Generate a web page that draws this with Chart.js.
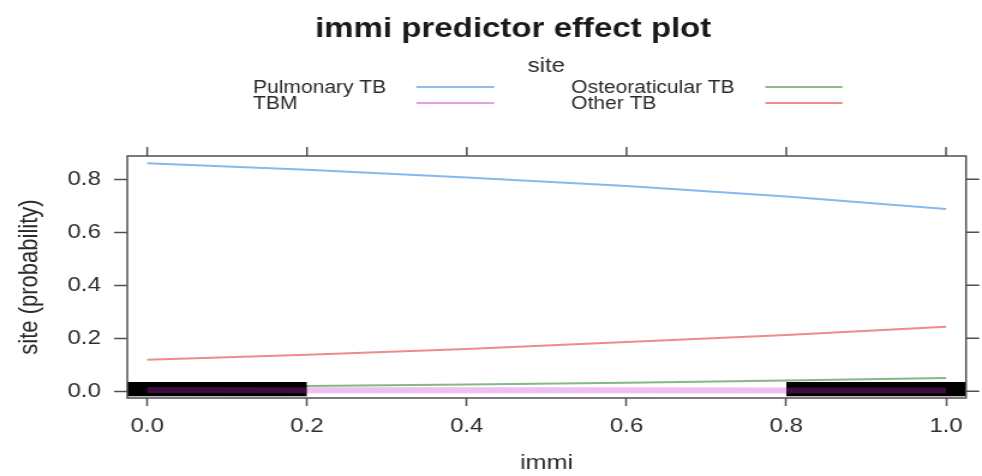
<!DOCTYPE html>
<html>
<head>
<meta charset="utf-8">
<script src="https://cdn.jsdelivr.net/npm/chart.js@4.4.0/dist/chart.umd.min.js"></script>
<style>
  html, body { margin: 0; padding: 0; background: #fff; }
  /* the reference is a horizontally stretched picture, so the canvas is drawn narrow and stretched */
  #effectChart { width: 982px !important; height: 476px !important; display: block; }
</style>
</head>
<body>
<canvas id="effectChart" width="818" height="476" style="width:982px;height:476px"></canvas>
<script>
// data
const immiValues = [0, 0.2, 0.4, 0.6, 0.8, 1.0];
const pulmonaryTB = [0.861, 0.836, 0.807, 0.775, 0.735, 0.688];
const tbm = [0.005, 0.004, 0.004, 0.004, 0.003, 0.003];
const osteoTB = [0.015, 0.020, 0.026, 0.033, 0.041, 0.050];
const otherTB = [0.119, 0.138, 0.160, 0.186, 0.213, 0.244];
const xTickValues = [0, 0.2, 0.4, 0.6, 0.8, 1.0];
const yTickValues = [0, 0.2, 0.4, 0.6, 0.8];
const rugSpans = [[-0.025, 0.2], [0.8, 1.025]];

const FONT = "'Liberation Sans', Arial, sans-serif";
const rugTop = 0.035, rugBottom = -0.018;

function pts(values) {
    return immiValues.map((x, i) => ({ x: x, y: values[i] }));
}

function inRug(ctx) {
    const a = ctx.p0.parsed.x, b = ctx.p1.parsed.x;
    return rugSpans.some(s => a >= s[0] && b <= s[1]);
}

// rug bands (black blocks along the bottom)
const rugSets = rugSpans.map(s => ({
    label: 'rug',
    data: [{ x: s[0], y: rugTop }, { x: s[1], y: rugTop }],
    borderWidth: 0,
    pointRadius: 0,
    backgroundColor: '#000000',
    fill: { value: rugBottom },
    order: 10
}));

// lower order is drawn on top; the green line sits under the rug
const seriesSets = [
    { label: 'Pulmonary TB', data: pts(pulmonaryTB), borderColor: '#86b9ec', legendColor: '#8fbdec', borderWidth: 2, order: 2 },
    { label: 'TBM', data: pts(tbm), borderColor: '#efbff1', legendColor: '#e3a0e8', borderWidth: 6, order: 1,
      segment: { borderColor: ctx => inRug(ctx) ? '#3b0c3d' : undefined } },
    { label: 'Osteoraticular TB', data: pts(osteoTB), borderColor: '#86b886', legendColor: '#8cba8c', borderWidth: 2, order: 11 },
    { label: 'Other TB', data: pts(otherTB), borderColor: '#ec8c8c', legendColor: '#e89090', borderWidth: 2, order: 2 }
];
seriesSets.forEach(d => { d.pointRadius = 0; d.fill = false; d.tension = 0; });

// title, key, frame and the unlabelled ticks on top and right
const latticeDecor = {
    id: 'latticeDecor',
    afterDraw(chart) {
        const ctx = chart.ctx;
        const area = chart.chartArea;
        const xs = chart.scales.x, ys = chart.scales.y;
        ctx.save();

        ctx.strokeStyle = '#505050';
        ctx.lineWidth = 1.5;
        ctx.strokeRect(area.left, area.top, area.right - area.left, area.bottom - area.top);
        ctx.beginPath();
        xTickValues.forEach(v => {
            const px = xs.getPixelForValue(v);
            ctx.moveTo(px, area.top);
            ctx.lineTo(px, area.top - 9);
        });
        yTickValues.forEach(v => {
            const py = ys.getPixelForValue(v);
            ctx.moveTo(area.right, py);
            ctx.lineTo(area.right + 11, py);
        });
        ctx.stroke();

        ctx.fillStyle = '#1a1a1a';
        ctx.textAlign = 'center';
        ctx.textBaseline = 'alphabetic';
        ctx.font = 'bold 27.5px ' + FONT;
        ctx.fillText('immi predictor effect plot', 427.5, 37);
        ctx.fillStyle = '#2a2a2a';
        ctx.font = '20px ' + FONT;
        ctx.fillText('site', 455, 72);

        const cols = [{ tx: 210.8, l0: 346.7, l1: 411.7 }, { tx: 475.8, l0: 637.5, l1: 701.7 }];
        const rows = [{ base: 93, line: 87 }, { base: 109, line: 103 }];
        const place = { 'Pulmonary TB': [0, 0], 'TBM': [0, 1], 'Osteoraticular TB': [1, 0], 'Other TB': [1, 1] };
        ctx.textAlign = 'left';
        ctx.font = '17.5px ' + FONT;
        seriesSets.forEach(d => {
            const c = cols[place[d.label][0]], r = rows[place[d.label][1]];
            ctx.fillStyle = '#2a2a2a';
            ctx.fillText(d.label, c.tx, r.base);
            ctx.strokeStyle = d.legendColor;
            ctx.lineWidth = 2.2;
            ctx.beginPath();
            ctx.moveTo(c.l0, r.line);
            ctx.lineTo(c.l1, r.line);
            ctx.stroke();
        });
        ctx.restore();
    }
};

const chart = new Chart(document.getElementById('effectChart').getContext('2d'), {
    type: 'line',
    data: { datasets: rugSets.concat(seriesSets) },
    options: {
        responsive: false,
        animation: false,
        devicePixelRatio: 1,
        layout: { padding: { top: 156, right: 13.3, left: 0, bottom: 0 } },
        plugins: { legend: { display: false }, title: { display: false }, tooltip: { enabled: false } },
        scales: {
            x: {
                type: 'linear',
                min: -0.025,
                max: 1.025,
                afterBuildTicks: s => { s.ticks = xTickValues.map(v => ({ value: v })); },
                afterFit: s => { s.height = 78; },
                border: { display: false },
                grid: { drawOnChartArea: false, tickLength: 8, tickColor: '#505050', tickWidth: 1.5 },
                ticks: { padding: 8, color: '#2e2e2e', font: { family: FONT, size: 20 },
                         callback: v => v.toFixed(1), maxRotation: 0 },
                title: { display: true, text: 'immi', color: '#2a2a2a', font: { family: FONT, size: 21 }, padding: 0 }
            },
            y: {
                min: -0.025,
                max: 0.888,
                afterBuildTicks: s => { s.ticks = yTickValues.map(v => ({ value: v })); },
                afterFit: s => { s.width = 106; },
                border: { display: false },
                grid: { drawOnChartArea: false, tickLength: 11, tickColor: '#505050', tickWidth: 1.5 },
                ticks: { padding: 11, color: '#2e2e2e', font: { family: FONT, size: 20 },
                         callback: v => v.toFixed(1) },
                title: { display: true, text: 'site (probability)', color: '#2a2a2a',
                         font: { family: FONT, size: 22 }, padding: { top: 12, bottom: 0 } }
            }
        }
    },
    plugins: [latticeDecor]
});
</script>
</body>
</html>
